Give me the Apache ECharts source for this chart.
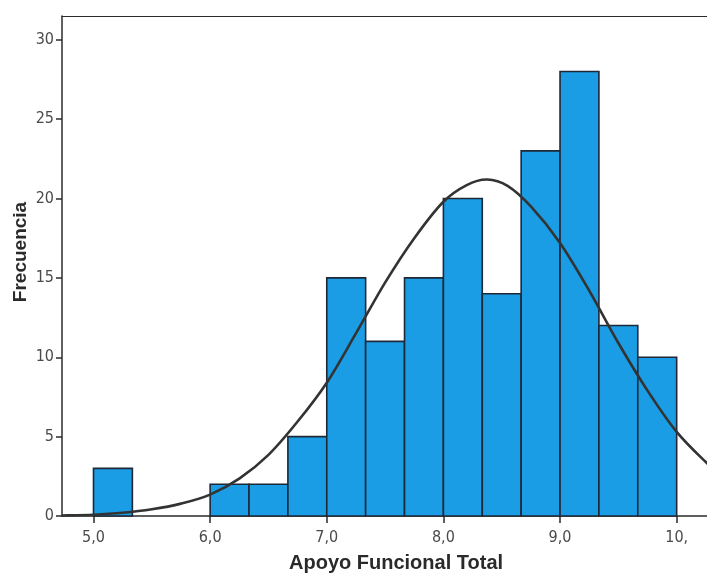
<!DOCTYPE html>
<html>
<head>
<meta charset="utf-8">
<script src="https://cdn.jsdelivr.net/npm/echarts@6/dist/echarts.min.js"></script>
<style>
  html, body { margin: 0; padding: 0; background: #ffffff; }
  #chart { width: 707px; height: 577px; }
</style>
</head>
<body>
<div id="chart"></div>
<script>
// Histogram of "Apoyo Funcional Total": bins of width 1/3, lower edges and counts
const binWidth = 1 / 3;
const binLower = [5.0, 6.0, 6.3333, 6.6667, 7.0, 7.3333, 7.6667, 8.0, 8.3333, 8.6667, 9.0, 9.3333, 9.6667];
const binCount = [3, 2, 2, 5, 15, 11, 15, 20, 14, 23, 28, 12, 10];

// Fitted normal curve, sampled points [x, frequency]
const curveX = [4.73, 5.0, 5.25, 5.5, 5.75, 6.0, 6.25, 6.5, 6.75, 7.0, 7.25, 7.5, 7.75, 8.0, 8.2, 8.375, 8.55, 8.75, 9.0, 9.25, 9.5, 9.75, 10.0, 10.25, 10.35];
const curveY = [0.03, 0.08, 0.2, 0.42, 0.78, 1.35, 2.35, 3.85, 5.95, 8.4, 11.5, 14.7, 17.5, 19.8, 20.85, 21.2, 20.8, 19.5, 17.2, 14.2, 10.9, 7.9, 5.3, 3.4, 2.8];

// Axis tick labels
const xTickValues = [5, 6, 7, 8, 9, 10];
const xTickLabels = ['5,0', '6,0', '7,0', '8,0', '9,0', '10,'];
const yTickValues = [0, 5, 10, 15, 20, 25, 30];

const barData = binLower.map((lo, i) => [lo, lo + binWidth, binCount[i]]);
const curveData = curveX.map((x, i) => [x, curveY[i]]);

const X_MIN = 4.73, X_MAX = 10.26;
const labelFont = '"Liberation Sans Narrow", "DejaVu Sans Condensed", "Roboto Condensed", "Liberation Sans", Arial, sans-serif';
const frameColor = '#2b2b2b';
const chart = echarts.init(document.getElementById('chart'), null, { renderer: 'canvas' });

// Smooth curve through the sampled points (Catmull-Rom segments as cubic Béziers)
function renderCurve(params, api) {
  if (params.dataIndex !== 0) return null;
  const pts = curveData.map(d => api.coord(d));
  let d = 'M' + pts[0][0] + ' ' + pts[0][1];
  for (let i = 0; i < pts.length - 1; i++) {
    const p0 = pts[Math.max(i - 1, 0)];
    const p1 = pts[i];
    const p2 = pts[i + 1];
    const p3 = pts[Math.min(i + 2, pts.length - 1)];
    const c1x = p1[0] + (p2[0] - p0[0]) / 6, c1y = p1[1] + (p2[1] - p0[1]) / 6;
    const c2x = p2[0] - (p3[0] - p1[0]) / 6, c2y = p2[1] - (p3[1] - p1[1]) / 6;
    d += ' C' + c1x + ' ' + c1y + ' ' + c2x + ' ' + c2y + ' ' + p2[0] + ' ' + p2[1];
  }
  return {
    type: 'path',
    shape: { pathData: d },
    style: { fill: null, stroke: '#333333', lineWidth: 2.6, lineJoin: 'round' }
  };
}

chart.setOption({
  animation: false,
  backgroundColor: '#ffffff',
  grid: { left: 62, top: 16, right: 0, bottom: 61 },
  xAxis: [
    {
      type: 'value',
      min: X_MIN,
      max: X_MAX,
      splitLine: { show: false },
      axisLine: { show: true, onZero: false, lineStyle: { color: frameColor, width: 1.5 } },
      axisTick: { show: true, length: 7, customValues: xTickValues, lineStyle: { color: frameColor, width: 1.5 } },
      axisLabel: {
        customValues: xTickValues,
        margin: 14,
        fontFamily: labelFont,
        fontSize: 16,
        color: '#4a4a4a',
        formatter: v => xTickLabels[xTickValues.indexOf(Math.round(v))]
      }
    },
    {
      // top edge of the plot frame
      type: 'value',
      position: 'top',
      min: X_MIN,
      max: X_MAX,
      splitLine: { show: false },
      axisLine: { show: true, onZero: false, lineStyle: { color: frameColor, width: 1.2 } },
      axisTick: { show: false },
      axisLabel: { show: false }
    }
  ],
  yAxis: {
    type: 'value',
    min: 0,
    max: 31.5,
    interval: 5,
    splitLine: { show: false },
    axisLine: { show: true, lineStyle: { color: frameColor, width: 1.5 } },
    axisTick: { show: true, length: 6, customValues: yTickValues, lineStyle: { color: frameColor, width: 1.5 } },
    axisLabel: {
      customValues: yTickValues,
      margin: 8,
      fontFamily: labelFont,
      fontSize: 16,
      color: '#4a4a4a'
    }
  },
  graphic: [
    {
      type: 'text',
      left: 289, top: 553,
      style: {
        text: 'Apoyo Funcional Total',
        font: 'bold 20px "Liberation Sans", Arial, sans-serif',
        fill: '#2a2a2a'
      }
    },
    {
      type: 'text',
      x: 21, y: 252,
      rotation: Math.PI / 2,
      style: {
        text: 'Frecuencia',
        font: 'bold 19px "Liberation Sans", Arial, sans-serif',
        fill: '#2a2a2a',
        align: 'center',
        verticalAlign: 'middle'
      }
    }
  ],
  series: [
    {
      type: 'custom',
      data: barData,
      encode: { x: [0, 1], y: 2 },
      z: 2,
      renderItem: function (params, api) {
        const p0 = api.coord([api.value(0), api.value(2)]);
        const p1 = api.coord([api.value(1), 0]);
        return {
          type: 'rect',
          shape: { x: p0[0], y: p0[1], width: p1[0] - p0[0], height: p1[1] - p0[1] },
          style: { fill: '#1a9de4', stroke: '#1e2837', lineWidth: 1.6 }
        };
      }
    },
    {
      type: 'custom',
      data: curveData,
      encode: { x: 0, y: 1 },
      z: 3,
      renderItem: renderCurve
    }
  ]
});
</script>
</body>
</html>
